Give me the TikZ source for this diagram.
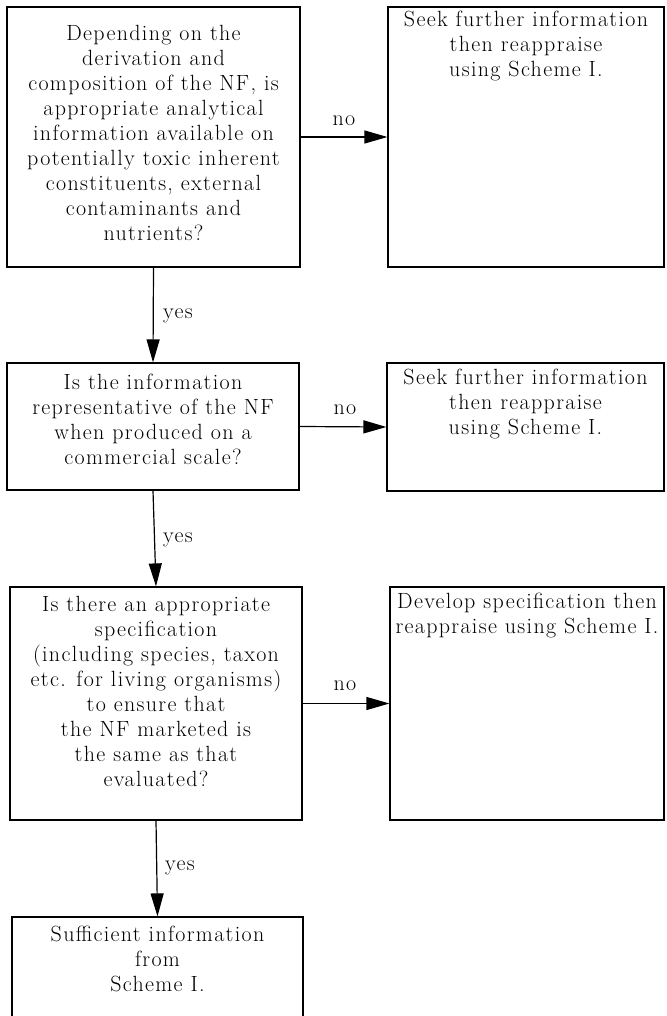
\documentclass[tikz,border=0pt]{standalone}
\usepackage{fontspec}
\setmainfont{Latin Modern Roman}
\usetikzlibrary{arrows.meta}
\newcommand{\flowfont}{\fontsize{22}{25}\selectfont\addfontfeature{LetterSpace=6}}
\begin{document}
\begin{tikzpicture}[x=1pt,y=-1pt,
  box/.style={draw, line width=1.2pt, rectangle, inner sep=0pt},
  txt/.style={align=center, inner sep=0pt, font=\flowfont},
  lab/.style={inner sep=0pt, font=\flowfont},
  arr/.style={line width=1.2pt, -{Triangle[length=23pt,width=13pt]}}]
\useasboundingbox (0,0) rectangle (666,1016);
\clip (0,0) rectangle (666,1016);
% boxes
\node[box, minimum width=293pt, minimum height=260pt] (A) at (153.5,137) {};
\node[box, minimum width=276pt, minimum height=260pt] (B) at (526,137) {};
\node[box, minimum width=292pt, minimum height=127pt] (C) at (153,426.5) {};
\node[box, minimum width=277pt, minimum height=128pt] (D) at (525.5,427) {};
\node[box, minimum width=292pt, minimum height=233pt] (E) at (156,703.5) {};
\node[box, minimum width=274pt, minimum height=233pt] (F) at (527,703.5) {};
\node[box, minimum width=291pt, minimum height=200pt] (G) at (157.5,1017) {};
% texts
\node[txt] (At) at (153.5,133) {Depending on the\\derivation and\\composition of the NF, is\\appropriate analytical\\information available on\\potentially toxic inherent\\constituents, external\\contaminants and\\nutrients?};
\node[txt, anchor=north] (Bt) at (526,11) {Seek further information\\then reappraise\\using Scheme I.};
\node[txt] (Ct) at (153,419) {Is the information\\representative of the NF\\when produced on a\\commercial scale?};
\node[txt, anchor=north] (Dt) at (525.5,369) {Seek further information\\then reappraise\\using Scheme I.};
\node[txt] (Et) at (156,691) {Is there an appropriate\\specification\\(including species, taxon\\etc. for living organisms)\\to ensure that\\the NF marketed is\\the same as that\\evaluated?};
\node[txt, anchor=north] (Ft) at (527,593) {Develop specification then\\reappraise using Scheme I.};
\node[txt, anchor=north] (Gt) at (157.5,926) {Sufficient information\\from\\Scheme I.};
% connectors
\draw[arr] (A.east) -- (B.west);
\draw[arr] (C.east) -- (D.west);
\draw[arr] (E.east) -- (F.west);
\draw[arr] (A.south) -- (C.north);
\draw[arr] (C.south) -- (E.north);
\draw[arr] (E.south) -- (G.north);
% labels
\node[lab] (n1) at (344,121) {no};
\node[lab] (n2) at (345,410) {no};
\node[lab] (n3) at (345,686) {no};
\node[lab, anchor=west] (y1) at (163,316) {yes};
\node[lab, anchor=west] (y2) at (163,540) {yes};
\node[lab, anchor=west] (y3) at (165,868) {yes};
\end{tikzpicture}
\end{document}
